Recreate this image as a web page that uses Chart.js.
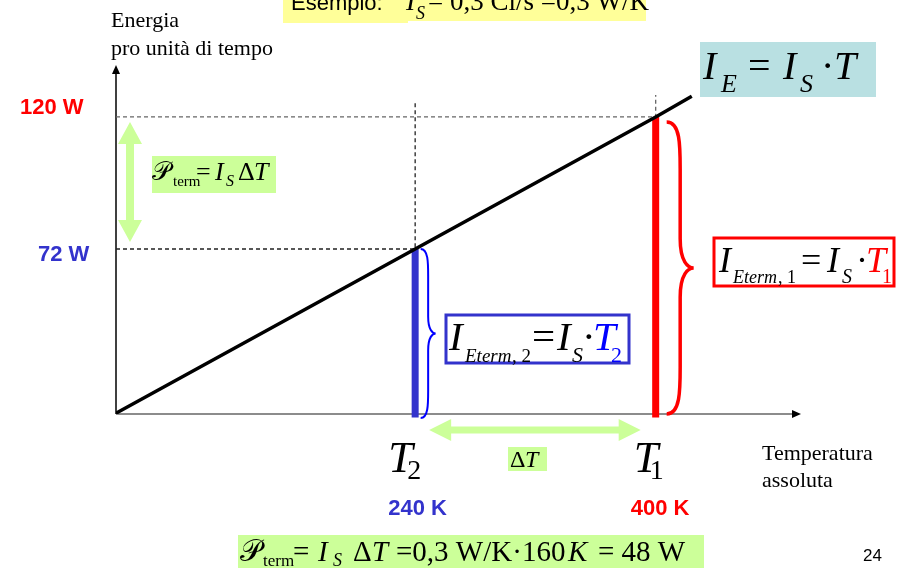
<!DOCTYPE html>
<html lang="it">
<head>
  <meta charset="UTF-8" />
  <title>Energia pro unità di tempo</title>
  <script src="https://cdn.jsdelivr.net/npm/chart.js"></script>
  <style>
    body { margin: 0; background: #fff; }
    canvas { display: block; }
  </style>
</head>
<body>
  <canvas id="chart" width="897" height="568"></canvas>
  <script>
    // Data (the drawing is not to scale from 0)
    const lineT = [41, 240, 400, 424];          // K
    const lineP = [12.3, 72, 120, 127.5];       // W
    const tempK = [240, 400];                   // T2, T1
    const powerW = [72, 120];
    const tempNames = ['T2', 'T1'];
    const tempLabels = ['240 K', '400 K'];
    const powerLabels = ['72 W', '120 W'];
    const markColors = ['#3333CC', '#FF0000'];
    const guideTop = [126, 128];                // top of the dotted verticals

    const SERIF = '"Liberation Serif", "Times New Roman", serif';
    const SANS = '"Liberation Sans", Arial, sans-serif';
    const GREEN = '#CCFF99';

    const pts = (xs, ys) => xs.map((x, i) => ({ x: x, y: ys[i] }));

    const datasets = [
      { data: pts(lineT, lineP), borderColor: '#000', borderWidth: 3.5, order: 0 }
    ];
    tempK.forEach((t, i) => {
      // thick bar from the line down to the axis
      datasets.push({ data: pts([t, t], [powerW[i], 10.7]), borderColor: markColors[i],
        borderWidth: 7, order: 1, clip: false });
      // dashed guide lines
      datasets.push({ data: pts([lineT[0], t, t], [powerW[i], powerW[i], guideTop[i]]),
        borderColor: i ? '#666' : '#222', borderWidth: 1.3, borderDash: [4, 3], order: 2 });
    });
    datasets.forEach(d => { d.showLine = true; d.pointRadius = 0; d.borderCapStyle = 'butt'; });

    function txt(ctx, t, x, y, f, c) {
      ctx.font = f; ctx.fillStyle = c || '#000'; ctx.fillText(t, x, y);
    }
    function pieces(ctx, list) {
      list.forEach(p => txt(ctx, p[0], p[1], p[2], p[3], p[4]));
    }

    function dblArrow(ctx, x1, y1, x2, y2, shaft, headW, headL) {
      const len = Math.hypot(x2 - x1, y2 - y1);
      ctx.save();
      ctx.translate(x1, y1);
      ctx.rotate(Math.atan2(y2 - y1, x2 - x1));
      ctx.beginPath();
      ctx.moveTo(0, 0);
      ctx.lineTo(headL, -headW / 2);
      ctx.lineTo(headL, -shaft / 2);
      ctx.lineTo(len - headL, -shaft / 2);
      ctx.lineTo(len - headL, -headW / 2);
      ctx.lineTo(len, 0);
      ctx.lineTo(len - headL, headW / 2);
      ctx.lineTo(len - headL, shaft / 2);
      ctx.lineTo(headL, shaft / 2);
      ctx.lineTo(headL, headW / 2);
      ctx.closePath();
      ctx.fillStyle = GREEN;
      ctx.fill();
      ctx.restore();
    }

    function brace(ctx, x, y1, y2, w, color, lw) {
      const h = y2 - y1, ym = (y1 + y2) / 2, a = x + w * 0.5;
      ctx.beginPath();
      ctx.moveTo(x, y1);
      ctx.bezierCurveTo(a, y1, a, y1 + h * 0.08, a, y1 + h * 0.16);
      ctx.lineTo(a, ym - h * 0.1);
      ctx.bezierCurveTo(a, ym - h * 0.02, x + w * 0.8, ym, x + w, ym);
      ctx.bezierCurveTo(x + w * 0.8, ym, a, ym + h * 0.02, a, ym + h * 0.1);
      ctx.lineTo(a, y2 - h * 0.16);
      ctx.bezierCurveTo(a, y2 - h * 0.08, a, y2, x, y2);
      ctx.strokeStyle = color;
      ctx.lineWidth = lw;
      ctx.stroke();
    }

    const slide = {
      id: 'slide',
      beforeDatasetsDraw(chart) {
        const ctx = chart.ctx, a = chart.chartArea;
        ctx.save();
        // x axis
        ctx.strokeStyle = '#666'; ctx.lineWidth = 1.6;
        ctx.beginPath(); ctx.moveTo(a.left, a.bottom); ctx.lineTo(a.right - 7, a.bottom); ctx.stroke();
        ctx.fillStyle = '#000';
        ctx.beginPath(); ctx.moveTo(a.right + 1, a.bottom); ctx.lineTo(a.right - 8, a.bottom - 4);
        ctx.lineTo(a.right - 8, a.bottom + 4); ctx.closePath(); ctx.fill();
        // y axis
        ctx.strokeStyle = '#000'; ctx.lineWidth = 1.5;
        ctx.beginPath(); ctx.moveTo(a.left, a.bottom); ctx.lineTo(a.left, a.top + 5); ctx.stroke();
        ctx.beginPath(); ctx.moveTo(a.left, a.top - 3); ctx.lineTo(a.left - 4, a.top + 6);
        ctx.lineTo(a.left + 4, a.top + 6); ctx.closePath(); ctx.fill();
        ctx.restore();
      },
      afterDatasetsDraw(chart) {
        const ctx = chart.ctx, xs = chart.scales.x, ys = chart.scales.y;
        const x2 = xs.getPixelForValue(tempK[0]), x1 = xs.getPixelForValue(tempK[1]);
        const y2 = ys.getPixelForValue(powerW[0]), y1 = ys.getPixelForValue(powerW[1]);
        const base = chart.chartArea.bottom;
        ctx.save();
        brace(ctx, x2 + 5.5, y2, base + 4, 15, '#0000FF', 2);
        brace(ctx, x1 + 11, y1 + 5, base, 27, '#FF0000', 3.5);
        dblArrow(ctx, 130, y1 + 5, 130, y2 - 7, 8, 24, 22);
        dblArrow(ctx, x2 + 14, base + 16, x1 - 15, base + 16, 7, 22, 22);
        ctx.restore();
      },
      afterDraw(chart) {
        const ctx = chart.ctx, xs = chart.scales.x, ys = chart.scales.y;
        ctx.save();
        ctx.textBaseline = 'alphabetic';

        // axis titles
        txt(ctx, 'Energia', 111, 27, '22px ' + SERIF);
        txt(ctx, 'pro unità di tempo', 111, 55, '22px ' + SERIF);
        txt(ctx, 'Temperatura', 762, 460, '22px ' + SERIF);
        txt(ctx, 'assoluta', 762, 487, '22px ' + SERIF);

        // value labels at the marks
        const lx = [38, 20], dy = [12, -3];
        tempK.forEach((t, i) => {
          const px = xs.getPixelForValue(t), py = ys.getPixelForValue(powerW[i]);
          txt(ctx, powerLabels[i], lx[i], py + dy[i], 'bold 22px ' + SANS, markColors[i]);
          txt(ctx, tempLabels[i], px - 27 + i * 2, 515, 'bold 22px ' + SANS, markColors[i]);
          txt(ctx, tempNames[i][0], px - 27 + i * 5, 472, 'italic 44px ' + SERIF);
          txt(ctx, tempNames[i][1], px - 8 + i * 2, 479, '28px ' + SERIF);
        });

        // Esempio box (cut at top of slide)
        ctx.fillStyle = '#FFFF99';
        ctx.fillRect(283, 0, 125, 23);
        ctx.fillRect(407, 0, 239, 21);
        txt(ctx, 'Esempio:', 291, 10, '22px ' + SANS);
        txt(ctx, 'I', 406, 10, 'italic 28px ' + SERIF);
        txt(ctx, 'S', 416, 19, 'italic 18px ' + SERIF);
        txt(ctx, '= 0,3 Cl/s =0,3 W/K', 428, 10, '27px ' + SERIF);

        // I_E = I_S · T
        ctx.fillStyle = '#B9E0E2';
        ctx.fillRect(700, 42, 176, 55);
        const F40 = 'italic 40px ' + SERIF, N40 = '40px ' + SERIF, S26 = 'italic 26px ' + SERIF;
        pieces(ctx, [['I', 703, 79, F40], ['E', 721, 92, S26], ['=', 748, 79, N40],
          ['I', 783, 79, F40], ['S', 800, 92, S26], ['·', 821, 79, N40], ['T', 834, 79, F40]]);

        // P_term = I_S ΔT (left box)
        ctx.fillStyle = GREEN;
        ctx.fillRect(152, 156, 124, 37);
        const F26 = 'italic 26px ' + SERIF, N26 = '26px ' + SERIF;
        pieces(ctx, [['𝒫', 152, 180, N26], ['term', 173, 186, '15px ' + SERIF], ['=', 196, 180, N26],
          ['I', 215, 180, F26], ['S', 226, 186, 'italic 16px ' + SERIF], ['Δ', 238, 180, N26],
          ['T', 254, 180, F26]]);

        // ΔT label
        ctx.fillStyle = GREEN;
        ctx.fillRect(508, 447, 39, 24);
        pieces(ctx, [['Δ', 510, 467, '24px ' + SERIF], ['T', 525, 467, 'italic 24px ' + SERIF]]);

        // I_Eterm,2 box
        ctx.fillStyle = '#fff';
        ctx.fillRect(446, 315, 183, 48);
        ctx.strokeStyle = '#3333CC'; ctx.lineWidth = 3;
        ctx.strokeRect(446, 315, 183, 48);
        const F41 = 'italic 41px ' + SERIF, N41 = '41px ' + SERIF;
        const S19 = 'italic 19px ' + SERIF;
        pieces(ctx, [['I', 449, 350, F41], ['Eterm', 465, 362, S19], [', 2', 512, 362, '19px ' + SERIF],
          ['=', 532, 350, N41], ['I', 557, 350, F41], ['S', 572, 362, 'italic 22px ' + SERIF],
          ['·', 582, 350, N41], ['T', 593, 350, F41, '#0000FF'], ['2', 611, 362, '22px ' + SERIF, '#0000FF']]);

        // I_Eterm,1 box
        ctx.fillStyle = '#fff';
        ctx.fillRect(714, 238, 180, 48);
        ctx.strokeStyle = '#FF0000'; ctx.lineWidth = 3;
        ctx.strokeRect(714, 238, 180, 48);
        const F36 = 'italic 36px ' + SERIF, N36 = '36px ' + SERIF;
        const S18 = 'italic 18px ' + SERIF;
        pieces(ctx, [['I', 719, 272, F36], ['Eterm', 733, 283, S18], [', 1', 778, 283, '18px ' + SERIF],
          ['=', 801, 272, N36], ['I', 827, 272, F36], ['S', 842, 283, 'italic 20px ' + SERIF],
          ['·', 856, 272, N36], ['T', 866, 272, F36, '#FF0000'], ['1', 882, 283, '20px ' + SERIF, '#FF0000']]);

        // bottom formula
        ctx.fillStyle = GREEN;
        ctx.fillRect(238, 535, 466, 33);
        const F29 = 'italic 29px ' + SERIF, N29 = '29px ' + SERIF;
        pieces(ctx, [['𝒫', 240, 561, '30px ' + SERIF], ['term', 263, 566, '17px ' + SERIF], ['=', 293, 561, N29],
          ['I', 318, 561, F29], ['S', 333, 566, 'italic 18px ' + SERIF], ['Δ', 353, 561, N29],
          ['T', 372, 561, F29], ['=0,3 W/K·160', 396, 561, N29], ['K', 568, 561, F29],
          ['= 48 W', 598, 561, N29]]);

        txt(ctx, '24', 863, 561, '17px ' + SANS);
        ctx.restore();
      }
    };

    new Chart(document.getElementById('chart'), {
      type: 'scatter',
      data: { datasets: datasets },
      options: {
        responsive: false,
        animation: false,
        layout: { padding: { left: 116, right: 97, top: 68, bottom: 154 } },
        scales: {
          x: { type: 'linear', min: 41, max: 496, display: false },
          y: { type: 'linear', min: 12, max: 137.8, display: false }
        },
        plugins: { legend: { display: false }, tooltip: { enabled: false } }
      },
      plugins: [slide]
    });
  </script>
</body>
</html>
